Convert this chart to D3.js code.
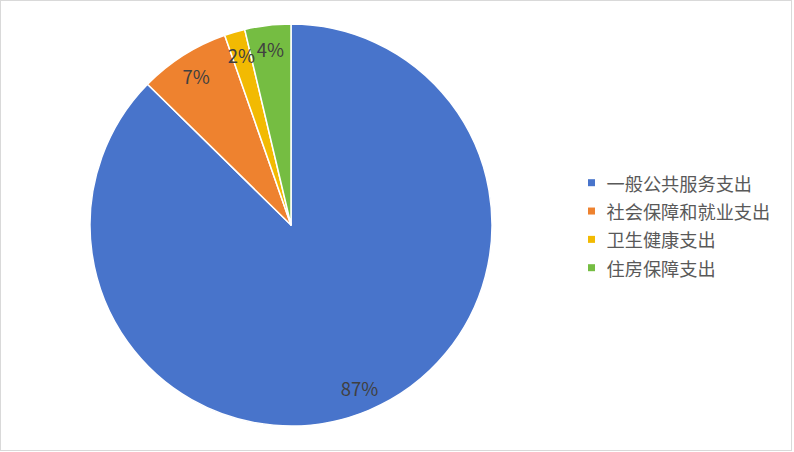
<!DOCTYPE html>
<html><head><meta charset="utf-8">
<script src="https://cdn.jsdelivr.net/npm/d3@7"></script>
<style>html,body{margin:0;padding:0;background:#fff;}svg{display:block;}</style>
</head><body>
<svg id="chart" width="794" height="452"></svg>
<script>
const categories = ["一般公共服务支出", "社会保障和就业支出", "卫生健康支出", "住房保障支出"];
const values = [87.35, 7.3, 1.65, 3.7];
const labels = ["87%", "7%", "2%", "4%"];
const colors = ["#4874CB", "#EE822F", "#F2BA02", "#75BD42"];

const svg = d3.select("#chart");
svg.append("rect").attr("x", 0.5).attr("y", 0.5).attr("width", 791).attr("height", 450)
  .attr("fill", "#fff").attr("stroke", "#d9d9d9").attr("stroke-width", 1);

const cx = 291, cy = 225, R = 201;
const data = categories.map((c, i) => ({cat: c, value: values[i], label: labels[i], color: colors[i]}));
const pie = d3.pie().value(d => d.value).sort(null).startAngle(0).endAngle(2 * Math.PI);
const arcs = pie(data);
const arc = d3.arc().innerRadius(0).outerRadius(R);
const labelArc = d3.arc().innerRadius(177).outerRadius(177);

const g = svg.append("g").attr("transform", `translate(${cx},${cy})`);
g.selectAll("path").data(arcs).join("path")
  .attr("d", arc).attr("fill", d => d.data.color)
  .attr("stroke", "#fff").attr("stroke-width", 1.5).attr("stroke-linejoin", "round");

g.selectAll("text.lbl").data(arcs).join("text").attr("class", "lbl")
  .attr("transform", d => `translate(${labelArc.centroid(d)})`)
  .attr("text-anchor", "middle").attr("dominant-baseline", "central")
  .attr("font-family", "'Noto Sans CJK SC', 'Noto Sans', sans-serif")
  .attr("font-size", 18.5).attr("fill", "#404040")
  .text(d => d.data.label);

const color = d3.scaleOrdinal().domain(categories).range(colors);
const legendY = d3.scalePoint().domain(categories).range([182.7, 267.7]);
const lg = svg.append("g");
const items = lg.selectAll("g").data(categories).join("g")
  .attr("transform", d => `translate(588,${legendY(d)})`);
items.append("rect").attr("x", 0).attr("y", -3.5).attr("width", 7).attr("height", 7)
  .attr("fill", d => color(d));
items.append("text").attr("x", 18.5).attr("y", 0).attr("dominant-baseline", "central")
  .attr("font-family", "'Noto Sans CJK SC', sans-serif").attr("font-size", 18.2)
  .attr("fill", "#595959").text(d => d);
</script>
</body></html>
